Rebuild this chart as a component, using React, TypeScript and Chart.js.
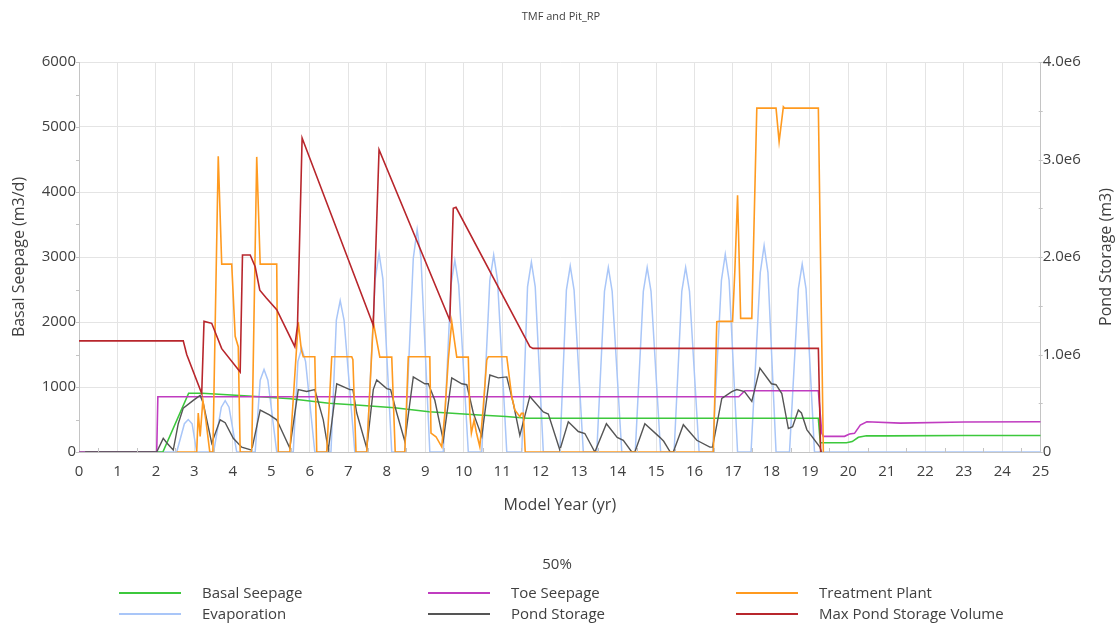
import { useEffect, useRef } from 'react';
import { Chart, registerables } from 'chart.js';
Chart.register(...registerables);

const FONT = '"Open Sans", "Noto Sans", sans-serif';
const TEXT = '#404040';

const chartTitle = 'TMF and Pit_RP';
const legendTitle = '50%';
const xTitle = 'Model Year (yr)';
const yTitle = 'Basal Seepage (m3/d)';
const y2Title = 'Pond Storage (m3)';

// Basal Seepage (m3/d, left axis)
const basalX = [0, 2.18, 2.85, 3.2, 4.4, 5.5, 6.5, 7.3, 8.2, 9.1, 10.4, 11.1, 11.65, 19.22, 19.27, 19.95, 20.1, 20.26, 20.47, 21, 23, 25];
const basalY = [0, 0, 905, 905, 862, 820, 750, 720, 680, 620, 570, 545, 520, 520, 143, 143, 160, 226, 251, 248, 255, 254];

// Toe Seepage (m3/d, left axis)
const toeX = [0, 2.02, 2.05, 17.15, 17.31, 19.22, 19.31, 19.35, 19.9, 20.03, 20.16, 20.31, 20.48, 21.35, 23, 25];
const toeY = [0, 0, 850, 850, 943, 943, 288, 240, 241, 277, 287, 415, 466, 445, 462, 466];

// Treatment Plant (m3/d, left axis)
const plantX = [2.54, 3.06, 3.1, 3.15, 3.22, 3.3, 3.4, 3.48, 3.62, 3.71, 3.97, 4.06, 4.14, 4.19, 4.49, 4.62, 4.71, 5.14, 5.18, 5.48, 5.7, 5.78, 5.83, 6.13, 6.18, 6.44, 6.57, 7.09, 7.12, 7.2, 7.48, 7.65, 7.82, 8.13, 8.22, 8.47, 8.56, 9.12, 9.15, 9.28, 9.43, 9.51, 9.6, 9.69, 9.82, 10.12, 10.16, 10.2, 10.27, 10.33, 10.42, 10.51, 10.6, 10.64, 11.12, 11.25, 11.33, 11.46, 11.5, 11.55, 11.6, 16.49, 16.58, 16.65, 16.99, 17.05, 17.12, 17.2, 17.49, 17.62, 18.12, 18.2, 18.31, 18.34, 19.22, 19.35];
const plantY = [0, 0, 600, 240, 800, 480, 0, 0, 4550, 2890, 2890, 1780, 1620, 0, 0, 4540, 2890, 2890, 0, 0, 2000, 1570, 1466, 1466, 0, 0, 1466, 1466, 1420, 0, 0, 2000, 1460, 1460, 0, 0, 1466, 1466, 290, 235, 80, 595, 1415, 2005, 1460, 1460, 595, 290, 490, 300, 80, 700, 1415, 1466, 1466, 850, 646, 543, 595, 595, 0, 0, 2005, 2010, 2010, 2800, 3950, 2056, 2056, 5290, 5290, 4775, 5310, 5290, 5290, 0];

// Evaporation (m3/d, left axis)
const evapX = [0, 2.54, 2.74, 2.84, 2.94, 3.06, 3.5, 3.7, 3.8, 3.9, 4.1, 4.58, 4.71, 4.81, 4.91, 5.14, 5.57, 5.69, 5.79, 5.89, 6.13, 6.55, 6.69, 6.79, 6.89, 7.17, 7.48, 7.7, 7.8, 7.9, 8.13, 8.47, 8.69, 8.79, 8.89, 9.12, 9.47, 9.67, 9.77, 9.87, 10.12, 10.47, 10.68, 10.78, 10.88, 11.12, 11.51, 11.66, 11.76, 11.86, 12.07, 12.5, 12.67, 12.77, 12.87, 13.11, 13.46, 13.66, 13.76, 13.86, 14.11, 14.46, 14.67, 14.77, 14.87, 15.12, 15.47, 15.67, 15.77, 15.87, 16.12, 16.47, 16.7, 16.8, 16.9, 17.12, 17.47, 17.71, 17.81, 17.91, 18.12, 18.47, 18.7, 18.8, 18.9, 19.12, 25];
const evapY = [0, 0, 435, 500, 435, 0, 0, 690, 790, 690, 0, 0, 1105, 1270, 1105, 0, 0, 1390, 1600, 1390, 0, 0, 2030, 2330, 2030, 0, 0, 2660, 3060, 2660, 0, 0, 2980, 3420, 2980, 0, 0, 2570, 2950, 2570, 0, 0, 2640, 3030, 2640, 0, 0, 2540, 2920, 2540, 0, 0, 2490, 2860, 2490, 0, 0, 2470, 2840, 2470, 0, 0, 2470, 2840, 2470, 0, 0, 2470, 2840, 2470, 0, 0, 2640, 3040, 2640, 0, 0, 2760, 3175, 2760, 0, 0, 2510, 2890, 2510, 0, 0];

// Pond Storage (m3, right axis)
const pondX = [0.16, 2.02, 2.19, 2.29, 2.45, 2.58, 2.71, 2.97, 3.15, 3.23, 3.45, 3.67, 3.8, 4.01, 4.23, 4.49, 4.71, 4.95, 5.14, 5.48, 5.7, 5.92, 6.13, 6.35, 6.48, 6.7, 7.04, 7.12, 7.22, 7.48, 7.65, 7.74, 8.0, 8.1, 8.26, 8.47, 8.69, 8.99, 9.08, 9.25, 9.47, 9.69, 9.95, 10.08, 10.25, 10.47, 10.68, 10.9, 11.12, 11.29, 11.46, 11.72, 12.07, 12.2, 12.5, 12.72, 12.98, 13.15, 13.41, 13.71, 13.99, 14.15, 14.37, 14.45, 14.71, 15.1, 15.2, 15.37, 15.45, 15.71, 16.06, 16.4, 16.47, 16.71, 16.97, 17.1, 17.3, 17.49, 17.7, 18.0, 18.12, 18.27, 18.44, 18.55, 18.7, 18.78, 18.92, 19.26, 19.3];
const pondY = [0, 0, 140000, 90000, 20000, 290000, 450000, 530000, 580000, 500000, 90000, 330000, 300000, 140000, 50000, 20000, 430000, 380000, 330000, 40000, 640000, 620000, 640000, 330000, 20000, 700000, 640000, 640000, 400000, 40000, 640000, 740000, 650000, 640000, 400000, 110000, 770000, 700000, 700000, 530000, 120000, 760000, 700000, 690000, 400000, 160000, 790000, 760000, 770000, 500000, 170000, 570000, 410000, 390000, 20000, 310000, 210000, 190000, 0, 290000, 150000, 120000, 0, 0, 290000, 150000, 110000, 0, 0, 280000, 120000, 50000, 50000, 550000, 620000, 640000, 620000, 520000, 860000, 700000, 690000, 600000, 240000, 260000, 430000, 400000, 230000, 50000, 0];

// Max Pond Storage Volume (m3, right axis)
const maxX = [0, 2.71, 2.8, 3.19, 3.25, 3.45, 3.71, 4.19, 4.25, 4.45, 4.58, 4.7, 4.87, 5.14, 5.4, 5.61, 5.68, 5.8, 7.65, 7.8, 9.64, 9.73, 9.8, 11.72, 11.8, 19.22, 19.28];
const maxY = [1140000, 1140000, 1000000, 600000, 1340000, 1320000, 1060000, 820000, 2020000, 2020000, 1900000, 1660000, 1580000, 1460000, 1250000, 1080000, 1300000, 3220000, 1300000, 3100000, 1350000, 2500000, 2510000, 1080000, 1063000, 1063000, 0];

const seriesNames = ['Basal Seepage', 'Toe Seepage', 'Treatment Plant', 'Evaporation', 'Pond Storage', 'Max Pond Storage Volume'];
const seriesColors = ['#3cc83c', '#c03cc0', '#ff9a1f', '#a9c6f8', '#555555', '#b8262c'];

function toPoints(xs: number[], ys: number[]) {
  return xs.map((x, i) => ({ x, y: ys[i] }));
}

const overlay = {
  id: 'overlay',
  afterDraw(chart: any) {
    const { ctx, chartArea, scales } = chart;
    const x = scales.x, y = scales.y, y2 = scales.y2;
    ctx.save();
    ctx.strokeStyle = '#c4c4c4';
    ctx.lineWidth = 1;
    ctx.beginPath();
    for (let v = 0; v <= 6000; v += 500) {
      const py = Math.round(y.getPixelForValue(v)) + 0.5;
      ctx.moveTo(chartArea.left - 3, py);
      ctx.lineTo(chartArea.left, py);
    }
    for (let v = 0; v <= 4000000; v += 500000) {
      const py = Math.round(y2.getPixelForValue(v)) + 0.5;
      ctx.moveTo(chartArea.right - 2, py);
      ctx.lineTo(chartArea.right + 2, py);
    }
    for (let v = 0.5; v < 25; v += 1) {
      const px = Math.round(x.getPixelForValue(v)) + 0.5;
      ctx.moveTo(px, chartArea.bottom - 4);
      ctx.lineTo(px, chartArea.bottom);
    }
    ctx.stroke();

    // chart title
    ctx.fillStyle = TEXT;
    ctx.font = `11px ${FONT}`;
    ctx.textAlign = 'center';
    ctx.textBaseline = 'middle';
    ctx.fillText(chartTitle, 561, 17);

    // right axis title (reads bottom to top)
    ctx.save();
    ctx.font = `16px ${FONT}`;
    ctx.translate(1106, (chartArea.top + chartArea.bottom) / 2);
    ctx.rotate(-Math.PI / 2);
    ctx.fillText(y2Title, 0, 0);
    ctx.restore();

    // legend
    ctx.font = `15px ${FONT}`;
    ctx.textAlign = 'center';
    ctx.fillText(legendTitle, 557, 565);
    const lineX = [119, 428, 736];
    const textX = [202, 511, 819];
    const rowY = [594, 615];
    chart.data.datasets.forEach((ds: any, i: number) => {
      const r = Math.floor(i / 3);
      const c = i % 3;
      ctx.strokeStyle = ds.borderColor;
      ctx.lineWidth = 2;
      ctx.beginPath();
      ctx.moveTo(lineX[c], rowY[r] - 1);
      ctx.lineTo(lineX[c] + 62, rowY[r] - 1);
      ctx.stroke();
      ctx.fillStyle = TEXT;
      ctx.textAlign = 'left';
      ctx.fillText(ds.label, textX[c], rowY[r]);
    });
    ctx.restore();
  },
};

export default function App() {
  const ref = useRef<HTMLCanvasElement>(null);
  useEffect(() => {
    const canvas = ref.current;
    if (!canvas) return;
    const lists = [
      [basalX, basalY, 'y', 4, 1.6],
      [toeX, toeY, 'y', 3, 1.6],
      [plantX, plantY, 'y', 1, 1.6],
      [evapX, evapY, 'y', 5, 1.5],
      [pondX, pondY, 'y2', 2, 1.4],
      [maxX, maxY, 'y2', 0, 1.6],
    ] as const;
    const datasets = lists.map((l, i) => ({
      label: seriesNames[i],
      data: toPoints(l[0] as number[], l[1] as number[]),
      yAxisID: l[2],
      order: l[3],
      borderColor: seriesColors[i],
      backgroundColor: seriesColors[i],
      borderWidth: l[4],
      pointRadius: 0,
      tension: 0,
      fill: false,
    }));
    const chart = new Chart(canvas, {
      type: 'line',
      data: { datasets },
      plugins: [overlay],
      options: {
        animation: false,
        responsive: false,
        layout: { padding: { left: 0, right: 0, top: 62, bottom: 108 } },
        plugins: { legend: { display: false }, title: { display: false }, tooltip: { enabled: false } },
        scales: {
          x: {
            type: 'linear',
            min: 0,
            max: 25,
            ticks: { stepSize: 1, color: TEXT, font: { family: FONT, size: 15 }, padding: 11, maxRotation: 0, autoSkip: false, callback: (v: any) => String(v) },
            grid: { color: '#e4e4e4', drawTicks: false },
            border: { color: '#c4c4c4' },
            title: { display: true, text: xTitle, color: TEXT, font: { family: FONT, size: 16 }, padding: 0 },
            afterFit: (s: any) => { s.height = 63; },
          },
          y: {
            position: 'left',
            min: 0,
            max: 6000,
            ticks: { stepSize: 1000, color: TEXT, font: { family: FONT, size: 15 }, padding: 3, callback: (v: any) => String(v) },
            grid: { color: '#e4e4e4', drawTicks: false },
            border: { color: '#c4c4c4' },
            title: { display: true, text: yTitle, color: TEXT, font: { family: FONT, size: 16 }, padding: { top: 10, bottom: 0 } },
            afterFit: (s: any) => { s.width = 79; },
          },
          y2: {
            position: 'right',
            min: 0,
            max: 4000000,
            ticks: {
              stepSize: 1000000,
              color: TEXT,
              font: { family: FONT, size: 15 },
              padding: 2,
              callback: (v: any) => (v === 0 ? '0' : (Number(v) / 1e6).toFixed(1) + 'e6'),
            },
            grid: { drawOnChartArea: false, drawTicks: false },
            border: { color: '#c4c4c4' },
            afterFit: (s: any) => { s.width = 74.3; },
          },
        },
      },
    });
    return () => chart.destroy();
  }, []);
  return (
    <div style={{ position: 'absolute', left: 0, top: 0, width: 1115, height: 623, background: '#fff' }}>
      <canvas ref={ref} width={1115} height={623} />
    </div>
  );
}
